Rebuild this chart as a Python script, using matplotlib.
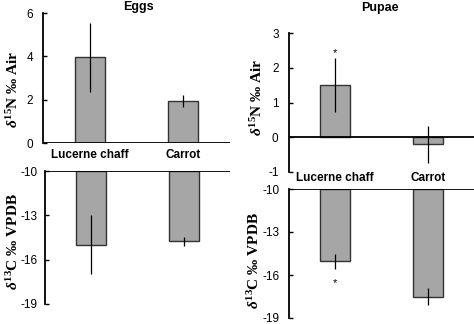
import numpy as np
import matplotlib
matplotlib.use('Agg')
import matplotlib.pyplot as plt

plt.rcParams['font.family'] = ['Liberation Sans', 'DejaVu Sans']
plt.rcParams['axes.unicode_minus'] = False
plt.rcParams['mathtext.fontset'] = 'custom'
plt.rcParams['mathtext.rm'] = 'Liberation Serif:bold'
plt.rcParams['mathtext.it'] = 'Liberation Serif:italic:bold'
plt.rcParams['mathtext.bf'] = 'Liberation Serif:bold'

# Data
categories = ['Lucerne chaff', 'Carrot']
eggs_n = [3.95, 1.95]
eggs_n_err = [1.6, 0.27]
eggs_c = [-15.0, -14.75]
eggs_c_err = [2.0, 0.3]
pupae_n = [1.5, -0.2]
pupae_n_err = [0.77, 0.53]
pupae_c = [-15.05, -17.5]
pupae_c_err = [0.55, 0.6]

W, H = 474, 324
BAR_COLOR = '#a6a6a6'
N_LABEL = r'$\mathit{\delta}^{15}$N ‰ Air'
C_LABEL = r'$\mathit{\delta}^{13}$C ‰ VPDB'


def rect(x0, x1, ytop, ybot):
    return [x0 / W, 1 - ybot / H, (x1 - x0) / W, (ybot - ytop) / H]


def style(ax, ylim, yticks, pad):
    ax.set_xlim(-0.5, 1.5)
    ax.set_ylim(*ylim)
    ax.set_yticks(yticks)
    ax.set_xticks([])
    for s in ['right', 'bottom', 'top']:
        ax.spines[s].set_visible(False)
    ax.spines['left'].set_linewidth(1.3)
    ax.tick_params(axis='y', direction='in', length=3, width=1, labelsize=8.5, pad=pad)
    ax.patch.set_alpha(0)


def bars(ax, vals, errs, base=0):
    x = np.arange(len(vals))
    ax.bar(x, np.array(vals) - base, bottom=base, width=0.32, color=BAR_COLOR,
           edgecolor='#333333', linewidth=1)
    ax.errorbar(x, vals, yerr=errs, fmt='none', ecolor='black', elinewidth=0.9, capsize=0)
    ax.axhline(base, color='black', linewidth=1.3, zorder=5)


def ylabel(x, y, s):
    fig.text(x / W, 1 - y / H, s, rotation=90, ha='center', va='center',
             fontsize=11, fontfamily='Liberation Serif', fontweight='bold')


fig = plt.figure(figsize=(W / 100, H / 100), dpi=100)

# Eggs, nitrogen
ax1 = fig.add_axes(rect(43, 230, 13, 143))
style(ax1, (0, 6), [0, 2, 4, 6], 7)
bars(ax1, eggs_n, eggs_n_err)
for i, c in enumerate(categories):
    ax1.text(i, -0.55, c, ha='center', va='center', fontsize=8.5, fontweight='bold')
ylabel(13, 89, N_LABEL)

# Eggs, carbon
ax2 = fig.add_axes(rect(45, 230, 171, 304))
style(ax2, (-19, -10), [-19, -16, -13, -10], 5.5)
bars(ax2, eggs_c, eggs_c_err, base=-10)
ylabel(13, 242, C_LABEL)

# Pupae, nitrogen
ax3 = fig.add_axes(rect(289, 474, 33, 172))
style(ax3, (-1, 3), [-1, 0, 1, 2, 3], 7.5)
bars(ax3, pupae_n, pupae_n_err)
ax3.text(0, pupae_n[0] + pupae_n_err[0] + 0.15, '*', ha='center', va='center', fontsize=8)
ylabel(257, 97, N_LABEL)

# Pupae, carbon
ax4 = fig.add_axes(rect(289, 474, 189, 318))
style(ax4, (-19, -10), [-19, -16, -13, -10], 6.5)
bars(ax4, pupae_c, pupae_c_err, base=-10)
ax4.text(0, pupae_c[0] - pupae_c_err[0] - 0.95, '*', ha='center', va='center', fontsize=8)
for i, c in enumerate(categories):
    ax4.text(i, -9.2, c, ha='center', va='center', fontsize=8.5, fontweight='bold')
ylabel(254, 261, C_LABEL)

fig.text(138 / W, 1 - 7 / H, 'Eggs', ha='center', va='center', fontsize=9, fontweight='bold')
fig.text(380 / W, 1 - 8 / H, 'Pupae', ha='center', va='center', fontsize=9, fontweight='bold')

fig.savefig('out.png', dpi=100)
